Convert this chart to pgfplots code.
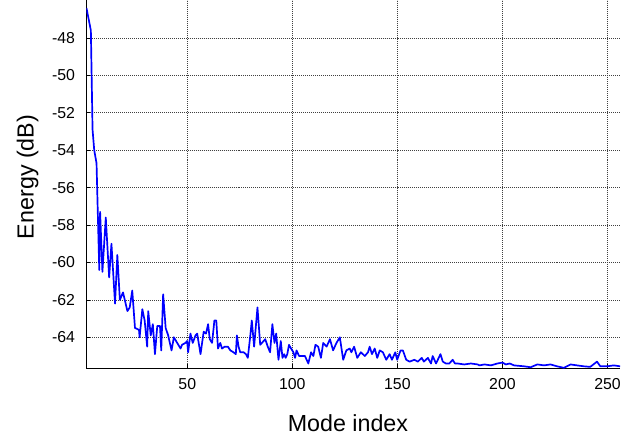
\documentclass[border=0pt]{standalone}
\usepackage{pgfplots}
\pgfplotsset{compat=1.18}
\usepackage{fontspec}
\setmainfont{Liberation Sans}

\begin{document}
\begin{tikzpicture}
\begin{axis}[
  scale only axis,
  width=537bp, height=370bp,
  xmin=2, xmax=256,
  ymin=-65.65, ymax=-46.0,
  axis x line*=bottom, axis y line*=left,
  axis line style={black, line width=1bp},
  xtick={50,100,...,250},
  xticklabels={50,100,150,200,250},
  ytick={-64,-62,...,-48},
  yticklabels={-64,-62,-60,-58,-56,-54,-52,-50,-48},
  tick align=inside,
  major tick length=4bp,
  tick style={black, line width=0.6bp},
  grid=major,
  grid style={black!75, line width=0.6bp, dash pattern=on 1bp off 1bp},
  tick label style={font=\fontsize{16}{18}\selectfont},
  xticklabel style={yshift=-7bp},
  yticklabel style={xshift=-8bp},
  xlabel={Mode index},
  ylabel={Energy (dB)},
  label style={font=\fontsize{23.5}{26}\selectfont},
  xlabel style={at={(axis description cs:0.49,-0.173)}, anchor=base, inner sep=0pt},
  ylabel style={at={(axis description cs:-0.0894,0.52)}, anchor=south, inner sep=0pt},
  clip=true,
]
\addplot[blue, line width=1.7bp, line join=round] coordinates {
(2.0,-46.4) (4.1,-47.6) (4.9,-52.9) (5.7,-54.0) (6.8,-54.7) (8.1,-60.4)
(8.5,-57.3) (9.6,-60.5) (11.2,-57.6) (12.8,-60.8) (13.9,-59.0) (15.6,-62.2)
(16.7,-59.6) (17.9,-62.0) (19.4,-61.6) (21.5,-62.6) (22.6,-62.4) (23.8,-61.5)
(25.1,-63.5) (27.0,-63.6) (27.3,-64.0) (28.6,-62.5) (29.7,-63.1) (30.9,-64.5)
(31.4,-62.6) (32.6,-63.9) (33.6,-63.3) (34.6,-64.9) (35.7,-63.4) (37.0,-63.4)
(37.6,-64.7) (38.5,-61.7) (39.7,-63.5) (40.9,-63.9) (42.5,-64.7) (43.6,-64.0)
(45.2,-64.3) (46.8,-64.6) (47.5,-64.4) (49.1,-64.3) (49.9,-64.2) (50.4,-64.8)
(51.5,-63.8) (52.6,-64.3) (53.9,-63.9) (54.7,-63.8) (56.3,-64.9) (57.8,-63.7)
(58.9,-63.8) (59.9,-63.3) (60.7,-64.1) (61.8,-64.3) (62.9,-63.1) (63.8,-63.1)
(64.6,-64.6) (65.7,-64.3) (66.5,-64.6) (67.8,-64.5) (69.3,-64.5) (70.5,-64.7)
(72.0,-64.8) (73.1,-64.9) (73.6,-63.9) (74.4,-64.5) (75.2,-64.8) (76.8,-64.8)
(77.9,-64.9) (78.8,-65.1) (80.0,-63.9) (80.7,-63.1) (81.8,-64.5) (83.4,-62.4)
(84.7,-64.4) (86.3,-64.2) (87.1,-64.1) (88.3,-64.5) (89.4,-64.8) (90.5,-63.3)
(91.5,-64.3) (92.3,-63.8) (93.4,-65.2) (94.5,-64.2) (95.3,-65.1) (96.1,-64.9)
(96.8,-65.1) (97.6,-64.9) (98.4,-64.4) (99.4,-64.6) (100.5,-64.8) (101.3,-65.1)
(102.0,-64.7) (103.2,-65.0) (104.4,-65.0) (106.0,-65.0) (107.6,-65.4) (108.9,-64.8)
(110.0,-65.0) (111.0,-64.4) (112.3,-64.5) (113.6,-65.1) (114.7,-64.3) (116.3,-64.5)
(117.9,-64.1) (119.4,-64.7) (121.0,-64.3) (122.6,-64.0) (124.2,-65.2) (125.7,-64.7)
(127.3,-64.6) (128.1,-64.8) (129.4,-64.5) (130.9,-65.1) (132.6,-64.8) (134.5,-65.0)
(136.0,-64.8) (136.8,-64.5) (137.9,-64.9) (139.2,-64.6) (140.4,-65.1) (141.6,-64.7)
(143.1,-64.8) (144.7,-65.2) (146.3,-64.9) (147.4,-65.2) (149.0,-64.8) (149.9,-65.2)
(151.5,-64.7) (152.6,-64.7) (154.2,-65.2) (155.8,-65.3) (158.1,-65.2) (159.7,-65.3)
(161.6,-65.1) (162.6,-65.3) (164.5,-65.1) (166.0,-65.4) (166.8,-65.0) (168.4,-65.4)
(170.5,-64.9) (171.6,-65.3) (173.1,-65.4) (174.7,-65.4) (176.3,-65.2) (177.4,-65.4)
(178.7,-65.4) (181.8,-65.45) (185.0,-65.4) (188.2,-65.45) (189.0,-65.5) (191.5,-65.45)
(194.5,-65.5) (197.6,-65.4) (200.0,-65.35) (201.6,-65.45) (203.5,-65.4) (205.5,-65.5)
(210.3,-65.55) (213.4,-65.6) (216.6,-65.45) (219.8,-65.5) (222.9,-65.45) (226.0,-65.55)
(229.2,-65.63) (232.4,-65.45) (235.5,-65.5) (238.7,-65.55) (241.8,-65.58) (245.0,-65.3)
(246.6,-65.55) (249.8,-65.55) (253.0,-65.5) (256.0,-65.55)
};
\end{axis}
\path (current axis.south west) ++(-87bp,-68bp) rectangle (current axis.north east);
\end{tikzpicture}
\end{document}
